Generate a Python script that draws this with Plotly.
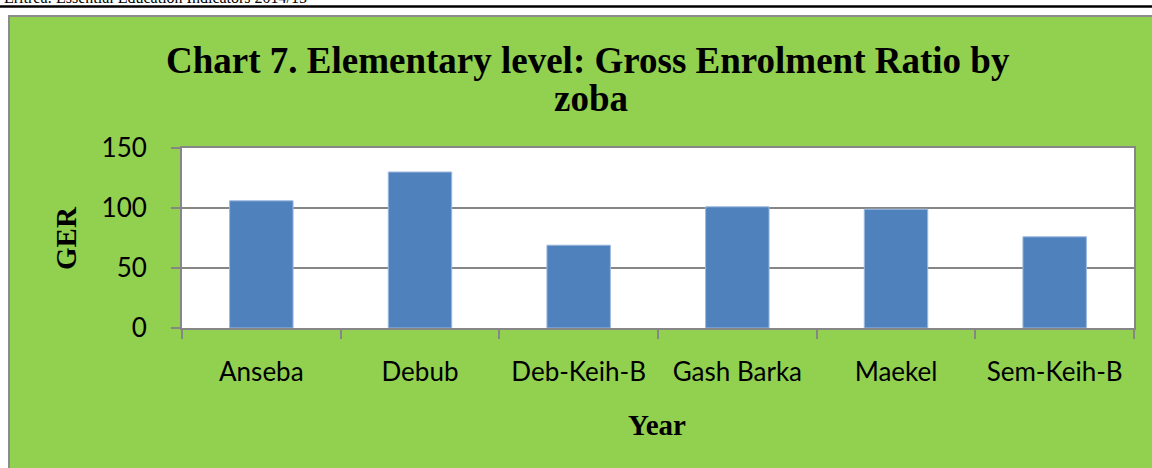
import plotly.graph_objects as go

# ---- data ----
zobas = ["Anseba", "Debub", "Deb-Keih-B", "Gash Barka", "Maekel", "Sem-Keih-B"]
ger_values = [106, 130, 69, 101, 99, 76]
y_tick_values = [0, 50, 100, 150]
title_line1 = "Chart 7. Elementary level: Gross Enrolment Ratio by"
title_line2 = "zoba"
header_text = "Eritrea: Essential Education Indicators 2014/15"

W, H = 1152, 468
L, R, T, B = 182, 18, 148, 140
PW, PH = W - L - R, H - T - B


def px(x):
    return (x - L) / PW


def py(y):
    return (H - B - y) / PH


GREEN = "#92D050"
GRAY = "#868686"
serif = "Liberation Serif, Times New Roman, serif"
sans = "Lato, Carlito, Calibri, sans-serif"

fig = go.Figure()
fig.add_trace(go.Bar(
    x=zobas, y=ger_values,
    marker=dict(color="#4F81BD", line=dict(color="#9DB9DE", width=1)),
    hoverinfo="x+y",
))

shapes = [
    # white header strip and left margin
    dict(type="rect", xref="paper", yref="paper", x0=px(-5), x1=px(W + 5), y0=py(-5), y1=py(15),
         fillcolor="white", line=dict(width=0), layer="above"),
    dict(type="rect", xref="paper", yref="paper", x0=px(-5), x1=px(8), y0=py(-5), y1=py(H + 5),
         fillcolor="white", line=dict(width=0), layer="above"),
    # black rule under header
    dict(type="line", xref="paper", yref="paper", x0=px(-5), x1=px(W + 5), y0=py(6.5), y1=py(6.5),
         line=dict(color="black", width=2.5), layer="above"),
    # gray box border (top and left)
    dict(type="line", xref="paper", yref="paper", x0=px(8), x1=px(W + 5), y0=py(16), y1=py(16),
         line=dict(color="#8C8C8C", width=2), layer="above"),
    dict(type="line", xref="paper", yref="paper", x0=px(9), x1=px(9), y0=py(15), y1=py(H + 5),
         line=dict(color="#8C8C8C", width=2), layer="above"),
]

annotations = [
    dict(text=header_text, xref="paper", yref="paper", x=px(2), y=py(-2.5),
         xanchor="left", yanchor="middle", showarrow=False,
         font=dict(family=serif, size=16, color="black")),
    dict(text="<b>" + title_line1 + "</b>", xref="paper", yref="paper", x=px(588), y=py(60),
         xanchor="center", yanchor="middle", showarrow=False,
         font=dict(family=serif, size=37, color="black")),
    dict(text="<b>" + title_line2 + "</b>", xref="paper", yref="paper", x=px(591), y=py(98),
         xanchor="center", yanchor="middle", showarrow=False,
         font=dict(family=serif, size=37, color="black")),
    dict(text="<b>GER</b>", xref="paper", yref="paper", x=px(66), y=py(238),
         xanchor="center", yanchor="middle", showarrow=False, textangle=-90,
         font=dict(family=serif, size=29, color="black")),
    dict(text="<b>Year</b>", xref="paper", yref="paper", x=px(657), y=py(425),
         xanchor="center", yanchor="middle", showarrow=False,
         font=dict(family=serif, size=29, color="black")),
]

fig.update_layout(
    width=W, height=H,
    margin=dict(l=L, r=R, t=T, b=B, pad=0),
    paper_bgcolor=GREEN,
    plot_bgcolor="white",
    showlegend=False,
    bargap=0.6,
    shapes=shapes,
    annotations=annotations,
    xaxis=dict(
        type="category",
        showgrid=False,
        showline=True, linecolor=GRAY, linewidth=2, mirror=True,
        ticks="outside", tickson="boundaries", ticklen=9, tickcolor=GRAY, tickwidth=2,
        tickfont=dict(family=sans, size=26, color="black"),
        ticklabelstandoff=20,
        zeroline=False,
    ),
    yaxis=dict(
        range=[0, 150],
        tickvals=y_tick_values,
        ticktext=[str(v) for v in y_tick_values],
        showgrid=True, gridcolor=GRAY, gridwidth=1.5,
        showline=True, linecolor=GRAY, linewidth=2, mirror=True,
        ticks="outside", ticklen=9, tickcolor=GRAY, tickwidth=2,
        tickfont=dict(family=sans, size=26, color="black"),
        ticklabelstandoff=19,
        zeroline=False,
    ),
)

fig.write_html(
    "out.html",
    config={"displayModeBar": False},
    post_script="document.body.style.margin='0';document.body.style.overflow='hidden';",
)
